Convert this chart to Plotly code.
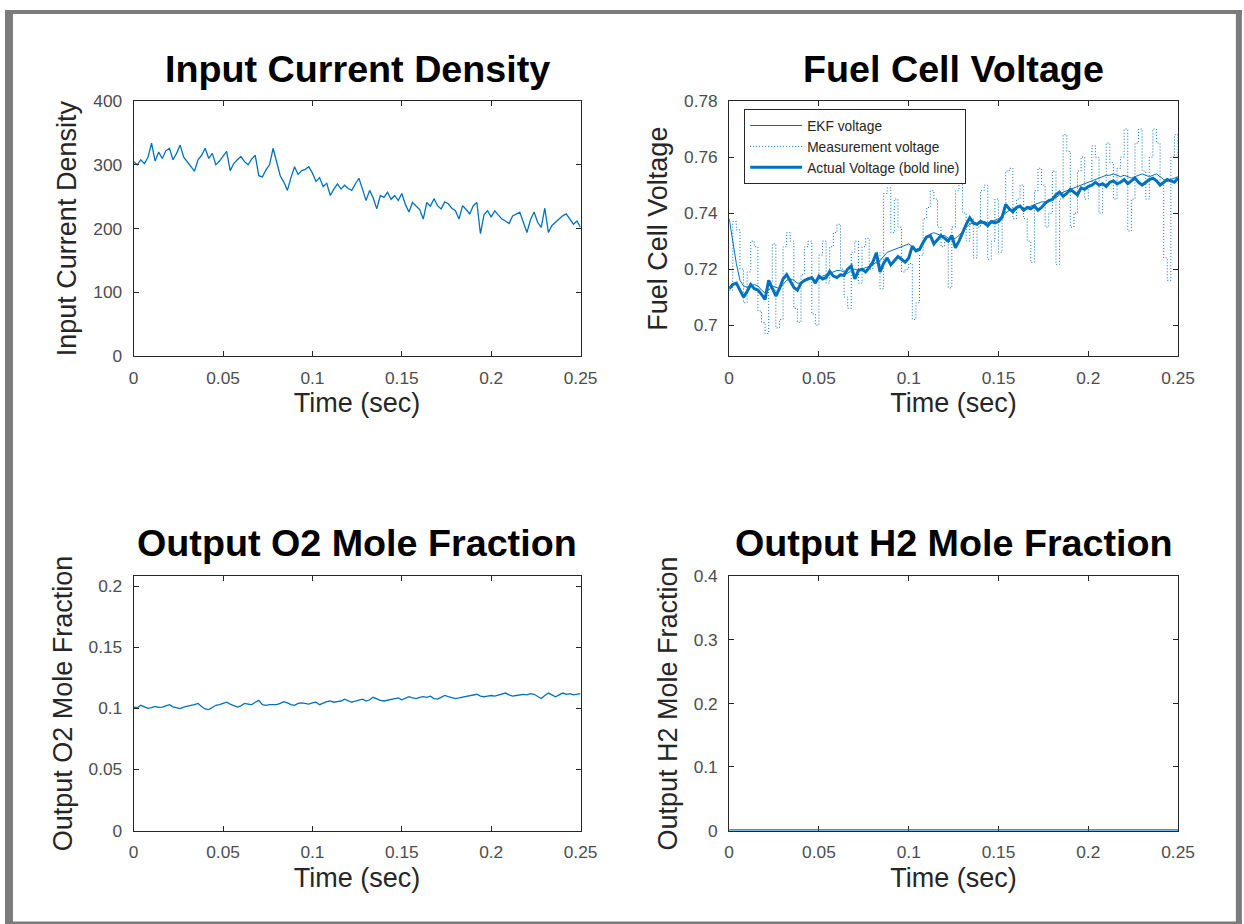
import plotly.graph_objects as go

# The photographed page comes back slightly shrunk and shifted, so reference pixel
# positions are mapped through the inverse of that transform.
REF_W, REF_H = 1244, 924
AX, AY = 0.985, 0.978      # observed shrink of the photo (x, y)
BX, BY = 4.0, 9.0          # observed offset of the photo (x, y)
FW = round((REF_W - BX) / AX)
FH = round((REF_H - BY) / AY)
FSCALE = 2 / (AX + AY)
FONT = "Liberation Sans, Arial, Helvetica, sans-serif"
BLUE = "#0072BD"

# ---------------- data ----------------
time_s = [0.000, 0.002, 0.004, 0.006, 0.008, 0.010, 0.012, 0.014, 0.016, 0.018,
          0.020, 0.022, 0.024, 0.026, 0.028, 0.030, 0.032, 0.034, 0.036, 0.038,
          0.040, 0.042, 0.044, 0.046, 0.048, 0.050, 0.052, 0.054, 0.056, 0.058,
          0.060, 0.062, 0.064, 0.066, 0.068, 0.070, 0.072, 0.074, 0.076, 0.078,
          0.080, 0.082, 0.084, 0.086, 0.088, 0.090, 0.092, 0.094, 0.096, 0.098,
          0.100, 0.102, 0.104, 0.106, 0.108, 0.110, 0.112, 0.114, 0.116, 0.118,
          0.120, 0.122, 0.124, 0.126, 0.128, 0.130, 0.132, 0.134, 0.136, 0.138,
          0.140, 0.142, 0.144, 0.146, 0.148, 0.150, 0.152, 0.154, 0.156, 0.158,
          0.160, 0.162, 0.164, 0.166, 0.168, 0.170, 0.172, 0.174, 0.176, 0.178,
          0.180, 0.182, 0.184, 0.186, 0.188, 0.190, 0.192, 0.194, 0.196, 0.198,
          0.200, 0.202, 0.204, 0.206, 0.208, 0.210, 0.212, 0.214, 0.216, 0.218,
          0.220, 0.222, 0.224, 0.226, 0.228, 0.230, 0.232, 0.234, 0.236, 0.238,
          0.240, 0.242, 0.244, 0.246, 0.248, 0.250]

current_density = [305, 300, 308, 302, 312, 334, 306, 320, 310, 322,
                   326, 308, 318, 331, 312, 304, 296, 290, 308, 315,
                   326, 310, 318, 300, 306, 314, 321, 291, 302, 308,
                   313, 305, 300, 309, 315, 283, 281, 292, 300, 326,
                   305, 283, 273, 260, 280, 297, 285, 291, 293, 297,
                   287, 274, 280, 266, 271, 252, 262, 270, 262, 268,
                   263, 260, 270, 279, 262, 244, 260, 248, 231, 252,
                   249, 257, 246, 252, 244, 255, 238, 226, 241, 236,
                   230, 215, 241, 235, 247, 236, 231, 242, 239, 232,
                   228, 215, 236, 230, 223, 236, 241, 192, 222, 228,
                   218, 228, 221, 215, 212, 208, 220, 223, 226, 210,
                   194, 214, 226, 210, 202, 232, 194, 205, 210, 215,
                   220, 223, 214, 207, 212, 202]

ekf_voltage = [0.7380, 0.7300, 0.7220, 0.7160, 0.7140, 0.7135, 0.7140, 0.7145, 0.7140, 0.7125,
               0.7115, 0.7125, 0.7140, 0.7135, 0.7130, 0.7145, 0.7160, 0.7165, 0.7160, 0.7150,
               0.7150, 0.7160, 0.7170, 0.7165, 0.7160, 0.7165, 0.7175, 0.7180, 0.7185, 0.7190,
               0.7195, 0.7195, 0.7190, 0.7185, 0.7195, 0.7200, 0.7195, 0.7200, 0.7205, 0.7210,
               0.7215, 0.7225, 0.7230, 0.7245, 0.7260, 0.7265, 0.7270, 0.7275, 0.7280, 0.7285,
               0.7290, 0.7280, 0.7270, 0.7275, 0.7290, 0.7310, 0.7325, 0.7330, 0.7325, 0.7320,
               0.7320, 0.7310, 0.7305, 0.7310, 0.7320, 0.7335, 0.7350, 0.7360, 0.7365, 0.7360,
               0.7365, 0.7370, 0.7365, 0.7370, 0.7375, 0.7380, 0.7390, 0.7400, 0.7410, 0.7415,
               0.7420, 0.7420, 0.7415, 0.7420, 0.7425, 0.7430, 0.7435, 0.7440, 0.7440, 0.7445,
               0.7450, 0.7455, 0.7465, 0.7475, 0.7480, 0.7485, 0.7490, 0.7495, 0.7500, 0.7505,
               0.7510, 0.7515, 0.7520, 0.7525, 0.7530, 0.7535, 0.7535, 0.7540, 0.7535, 0.7530,
               0.7535, 0.7530, 0.7525, 0.7530, 0.7535, 0.7540, 0.7535, 0.7530, 0.7535, 0.7540,
               0.7530, 0.7520, 0.7515, 0.7520, 0.7525, 0.7530]

measured_voltage = [0.7125, 0.7370, 0.7340, 0.7200, 0.7080, 0.7190, 0.7300, 0.7280, 0.7050, 0.7010,
                    0.6970, 0.7150, 0.7290, 0.6990, 0.7020, 0.7280, 0.7330, 0.7300, 0.7060, 0.7010,
                    0.7180, 0.7280, 0.7300, 0.7040, 0.7000, 0.7250, 0.7300, 0.7150, 0.7280, 0.7330,
                    0.7360, 0.7200, 0.7100, 0.7060, 0.7260, 0.7300, 0.7150, 0.7280, 0.7310, 0.7200,
                    0.7220, 0.7260, 0.7130, 0.7470, 0.7490, 0.7330, 0.7450, 0.7350, 0.7190, 0.7200,
                    0.7220, 0.7020, 0.7080, 0.7250, 0.7380, 0.7420, 0.7480, 0.7450, 0.7350, 0.7280,
                    0.7300, 0.7133, 0.7350, 0.7480, 0.7520, 0.7400, 0.7300, 0.7380, 0.7240, 0.7350,
                    0.7480, 0.7500, 0.7235, 0.7300, 0.7450, 0.7260, 0.7400, 0.7550, 0.7560, 0.7380,
                    0.7450, 0.7500, 0.7380, 0.7300, 0.7224, 0.7480, 0.7560, 0.7500, 0.7350, 0.7400,
                    0.7550, 0.7217, 0.7450, 0.7680, 0.7620, 0.7350, 0.7400, 0.7550, 0.7600, 0.7450,
                    0.7500, 0.7640, 0.7600, 0.7400, 0.7500, 0.7650, 0.7580, 0.7450, 0.7560, 0.7600,
                    0.7700, 0.7336, 0.7450, 0.7650, 0.7700, 0.7550, 0.7450, 0.7600, 0.7700, 0.7650,
                    0.7500, 0.7240, 0.7160, 0.7600, 0.7680, 0.7600]

actual_voltage = [0.7130, 0.7145, 0.7150, 0.7125, 0.7100, 0.7120, 0.7145, 0.7130, 0.7125, 0.7110,
                  0.7092, 0.7160, 0.7130, 0.7104, 0.7130, 0.7165, 0.7180, 0.7155, 0.7135, 0.7125,
                  0.7150, 0.7160, 0.7165, 0.7170, 0.7150, 0.7175, 0.7165, 0.7170, 0.7192, 0.7175,
                  0.7170, 0.7180, 0.7178, 0.7200, 0.7211, 0.7165, 0.7195, 0.7200, 0.7190, 0.7205,
                  0.7225, 0.7258, 0.7190, 0.7220, 0.7240, 0.7215, 0.7230, 0.7245, 0.7235, 0.7225,
                  0.7240, 0.7282, 0.7265, 0.7270, 0.7295, 0.7315, 0.7320, 0.7290, 0.7305, 0.7320,
                  0.7310, 0.7300, 0.7320, 0.7276, 0.7300, 0.7330, 0.7360, 0.7383, 0.7365, 0.7360,
                  0.7370, 0.7365, 0.7355, 0.7370, 0.7365, 0.7370, 0.7385, 0.7431, 0.7415, 0.7405,
                  0.7420, 0.7425, 0.7410, 0.7420, 0.7415, 0.7425, 0.7410, 0.7420, 0.7435, 0.7445,
                  0.7449, 0.7465, 0.7475, 0.7460, 0.7470, 0.7485, 0.7475, 0.7465, 0.7490, 0.7485,
                  0.7495, 0.7500, 0.7510, 0.7500, 0.7505, 0.7495, 0.7510, 0.7515, 0.7505, 0.7510,
                  0.7520, 0.7505, 0.7515, 0.7525, 0.7510, 0.7500, 0.7510, 0.7520, 0.7525, 0.7515,
                  0.7500, 0.7510, 0.7520, 0.7515, 0.7510, 0.7525]

o2_fraction = [0.1010, 0.1005, 0.1025, 0.1010, 0.1000, 0.1005, 0.1015, 0.1008, 0.1010, 0.1020,
               0.1030, 0.1012, 0.1005, 0.0998, 0.1010, 0.1020, 0.1025, 0.1030, 0.1040, 0.1015,
               0.0995, 0.0990, 0.1005, 0.1025, 0.1030, 0.1040, 0.1050, 0.1035, 0.1025, 0.1010,
               0.1020, 0.1040, 0.1035, 0.1030, 0.1050, 0.1065, 0.1030, 0.1025, 0.1030, 0.1028,
               0.1030, 0.1040, 0.1055, 0.1045, 0.1030, 0.1025, 0.1040, 0.1045, 0.1040, 0.1035,
               0.1045, 0.1050, 0.1030, 0.1045, 0.1055, 0.1060, 0.1050, 0.1055, 0.1060, 0.1075,
               0.1060, 0.1050, 0.1060, 0.1070, 0.1075, 0.1060, 0.1070, 0.1090, 0.1075, 0.1065,
               0.1060, 0.1065, 0.1070, 0.1080, 0.1085, 0.1070, 0.1085, 0.1095, 0.1085, 0.1080,
               0.1090, 0.1095, 0.1090, 0.1100, 0.1080, 0.1075, 0.1090, 0.1105, 0.1095, 0.1085,
               0.1080, 0.1085, 0.1090, 0.1095, 0.1100, 0.1105, 0.1115, 0.1100, 0.1095, 0.1100,
               0.1105, 0.1100, 0.1110, 0.1120, 0.1125, 0.1110, 0.1100, 0.1105, 0.1110, 0.1115,
               0.1110, 0.1120, 0.1115, 0.1100, 0.1080, 0.1105, 0.1125, 0.1110, 0.1095, 0.1110,
               0.1125, 0.1115, 0.1120, 0.1110, 0.1115, 0.1120]

h2_time = [0.0, 0.25]
h2_fraction = [0.0, 0.0]

x_tickvals = [0, 0.05, 0.1, 0.15, 0.2, 0.25]
x_ticktext = ["0", "0.05", "0.1", "0.15", "0.2", "0.25"]
y1_tickvals = [0, 100, 200, 300, 400]
y2_tickvals = [0.7, 0.72, 0.74, 0.76, 0.78]
y2_ticktext = ["0.7", "0.72", "0.74", "0.76", "0.78"]
y3_tickvals = [0, 0.05, 0.1, 0.15, 0.2]
y3_ticktext = ["0", "0.05", "0.1", "0.15", "0.2"]
y4_tickvals = [0, 0.1, 0.2, 0.3, 0.4]
y4_ticktext = ["0", "0.1", "0.2", "0.3", "0.4"]

titles = ["Input Current Density", "Fuel Cell Voltage",
          "Output O2 Mole Fraction", "Output H2 Mole Fraction"]
y_labels = ["Input Current Density", "Fuel Cell Voltage",
            "Output O2 Mole Fraction", "Output H2 Mole Fraction"]
x_label = "Time (sec)"
legend_names = ["EKF voltage", "Measurement voltage", "Actual Voltage (bold line)"]

def fs(size):
    return size * FSCALE

# ---------------- figure ----------------
fig = go.Figure()

fig.add_trace(go.Scatter(x=time_s, y=current_density, mode="lines",
                         line=dict(color=BLUE, width=1.3), showlegend=False,
                         xaxis="x", yaxis="y"))

fig.add_trace(go.Scatter(x=time_s, y=ekf_voltage, mode="lines", name=legend_names[0],
                         line=dict(color=BLUE, width=1), xaxis="x2", yaxis="y2"))
fig.add_trace(go.Scatter(x=time_s, y=measured_voltage, mode="lines", name=legend_names[1],
                         line=dict(color=BLUE, width=1, dash="1px,2px", shape="hv"),
                         xaxis="x2", yaxis="y2"))
fig.add_trace(go.Scatter(x=time_s, y=actual_voltage, mode="lines", name=legend_names[2],
                         line=dict(color=BLUE, width=3), xaxis="x2", yaxis="y2"))

fig.add_trace(go.Scatter(x=time_s, y=o2_fraction, mode="lines",
                         line=dict(color=BLUE, width=1.3), showlegend=False,
                         xaxis="x3", yaxis="y3"))
fig.add_trace(go.Scatter(x=h2_time, y=h2_fraction, mode="lines",
                         line=dict(color=BLUE, width=2.5), showlegend=False,
                         xaxis="x4", yaxis="y4"))

# reference pixel -> paper fraction
def sx(x):
    return min(1.0, max(0.0, ((x - BX) / AX) / FW))

def sy(y):
    return min(1.0, max(0.0, 1 - ((y - BY) / AY) / FH))

axis_common = dict(
    showline=True, linecolor="#262626", linewidth=1, mirror="ticks",
    ticks="inside", ticklen=5, tickcolor="#262626", tickwidth=1,
    showgrid=False, zeroline=False,
    tickfont=dict(family=FONT, size=fs(17), color="#4d4d4d"),
)
xtitle = dict(text=x_label, font=dict(family=FONT, size=fs(26.5), color="#262626"), standoff=6)

def ytitle(t):
    return dict(text=t, font=dict(family=FONT, size=fs(26.5), color="#262626"), standoff=8)

left_x = [sx(133), sx(581)]
right_x = [sx(730), sx(1180)]
top_y = [sy(355), sy(100)]
bot_y = [sy(829), sy(575)]

fig.update_layout(
    width=FW, height=FH,
    margin=dict(l=0, r=0, t=0, b=0),
    paper_bgcolor="white", plot_bgcolor="white",
    font=dict(family=FONT),
    xaxis=dict(domain=left_x, anchor="y", range=[0, 0.25], tickvals=x_tickvals,
               ticktext=x_ticktext, title=xtitle, ticklabelstandoff=6, **axis_common),
    yaxis=dict(domain=top_y, anchor="x", range=[0, 400], tickvals=y1_tickvals,
               title=ytitle(y_labels[0]), ticklabelstandoff=7, **axis_common),
    xaxis2=dict(domain=right_x, anchor="y2", range=[0, 0.25], tickvals=x_tickvals,
                ticktext=x_ticktext, title=xtitle, ticklabelstandoff=6, **axis_common),
    yaxis2=dict(domain=top_y, anchor="x2", range=[0.6889, 0.78], tickvals=y2_tickvals,
                ticktext=y2_ticktext, title=ytitle(y_labels[1]), ticklabelstandoff=7,
                **axis_common),
    xaxis3=dict(domain=left_x, anchor="y3", range=[0, 0.25], tickvals=x_tickvals,
                ticktext=x_ticktext, title=xtitle, ticklabelstandoff=6, **axis_common),
    yaxis3=dict(domain=bot_y, anchor="x3", range=[0, 0.208], tickvals=y3_tickvals,
                ticktext=y3_ticktext, title=ytitle(y_labels[2]), ticklabelstandoff=7,
                **axis_common),
    xaxis4=dict(domain=right_x, anchor="y4", range=[0, 0.25], tickvals=x_tickvals,
                ticktext=x_ticktext, title=xtitle, ticklabelstandoff=6,
                layer="below traces", **axis_common),
    yaxis4=dict(domain=bot_y, anchor="x4", range=[0, 0.4], tickvals=y4_tickvals,
                ticktext=y4_ticktext, title=ytitle(y_labels[3]), ticklabelstandoff=7,
                **axis_common),
    legend=dict(x=sx(745), y=sy(108), xanchor="left", yanchor="top",
                bgcolor="white", bordercolor="#262626", borderwidth=1,
                font=dict(family=FONT, size=fs(13.5), color="#262626"),
                tracegroupgap=0, itemwidth=52),
    showlegend=True,
)

# subplot titles
title_pos = [((133 + 581) / 2, 68), ((730 + 1180) / 2, 68),
             ((133 + 581) / 2, 542), ((730 + 1180) / 2, 542)]
for t, (cx, cy) in zip(titles, title_pos):
    fig.add_annotation(text="<b>%s</b>" % t, x=sx(cx), y=sy(cy), xref="paper", yref="paper",
                       xanchor="center", yanchor="middle", showarrow=False,
                       font=dict(family=FONT, size=fs(37), color="black"))

# grey frame around the picture
GREY = "#7b7b7b"
frame = [(4, 5, 12, 924), (4, 5, 1244, 13), (1238, 5, 1244, 924), (4, 920, 1244, 924)]
for (x0, y0, x1, y1) in frame:
    fig.add_shape(type="rect", xref="paper", yref="paper",
                  x0=sx(x0), x1=sx(x1), y0=sy(y1), y1=sy(y0),
                  fillcolor=GREY, line=dict(width=0), layer="above")

fig.write_html("out.html")
